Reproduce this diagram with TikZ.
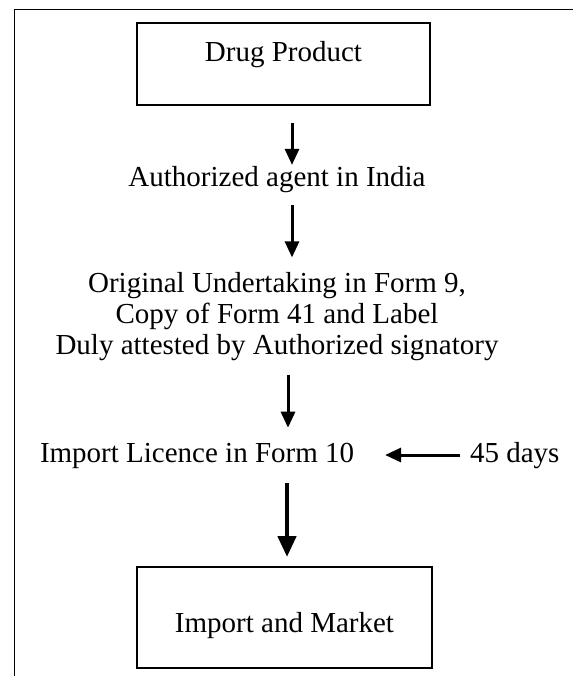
\documentclass[tikz,border=0pt]{standalone}
\usepackage{fontspec}
\setmainfont{Liberation Serif}
\usetikzlibrary{arrows.meta}
\begin{document}
\begin{tikzpicture}[x=1pt,y=-1pt,
  txt/.style={font=\fontsize{29}{31}\selectfont, inner sep=0pt, outer sep=0pt},
  boxnode/.style={draw, line width=2.5pt, inner sep=0pt, outer sep=0pt,
    font=\fontsize{29}{31}\selectfont, minimum width=293pt, minimum height=82pt},
  arr/.style={line width=3pt, -{Triangle[width=14pt,length=16pt]}},
  bigarr/.style={line width=4.5pt, -{Triangle[width=18pt,length=21pt]}},
  frameline/.style={line width=1pt}]
\useasboundingbox (0,0) rectangle (573,676);
\draw[frameline] (14.5,676) -- (14.5,9.5) -- (573,9.5);

\node[boxnode, text height=20pt, text depth=24pt] (drug) at (283.5,64) {Drug Product};
\node[txt, anchor=base] (agent) at (277,187) {Authorized agent in India};
\node[txt, align=center] (docs) at (277,316.6) {Original Undertaking in Form 9,\\ Copy of Form 41 and Label\\ Duly attested by Authorized signatory};
\node[txt, anchor=base west] (licence) at (40,462) {Import Licence in Form 10};
\node[txt, anchor=base west] (days) at (470,462) {45 days};
\node[boxnode, line width=2pt, minimum width=295pt, minimum height=101pt,
  text height=35pt, text depth=6pt] (market) at (284.5,617.5) {Import and Market};

\draw[arr, shorten <=18pt, shorten >=2pt] (drug.south -| 292,0) -- (agent.north -| 292,0);
\draw[arr, shorten <=12pt, shorten >=15pt] (agent.south -| 292,0) -- (docs.north -| 292,0);
\draw[arr, shorten <=14pt, shorten >=15pt] (docs.south -| 288,0) -- (licence.north -| 288,0);
\draw[bigarr, shorten <=15pt, shorten >=10pt] (licence.south -| 287,0) -- (market.north -| 287,0);
\draw[arr, shorten <=10pt, shorten >=31pt] (days.west |- 0,455) -- (licence.east |- 0,455);
\end{tikzpicture}
\end{document}
